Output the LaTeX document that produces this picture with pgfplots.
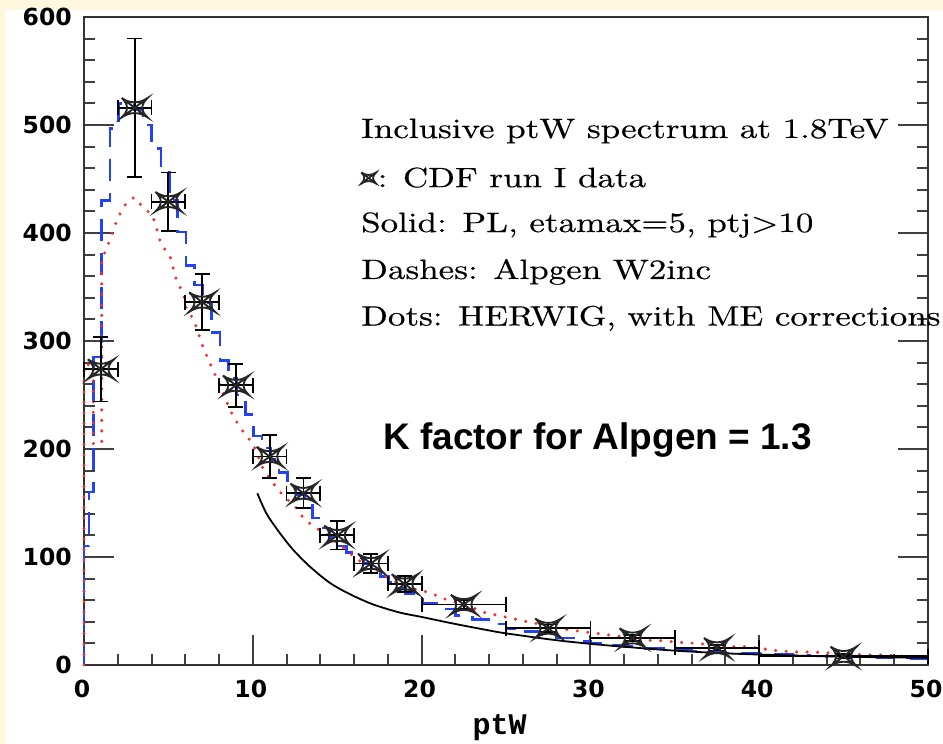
\documentclass[border=0pt]{standalone}
\usepackage{pgfplots}
\pgfplotsset{compat=1.18}
\usepackage{pgfplotstable}
\usepackage{fontspec}

\newfontfamily\annfont{lmroman10-regular.otf}[FakeStretch=1.25, FakeBold=0.4]
\newfontfamily\tickfont{DejaVu Sans}
\newfontfamily\labfont{Liberation Mono}
\newfontfamily\kfont{Liberation Sans}

\definecolor{cream}{RGB}{255,248,222}
\definecolor{alpblue}{RGB}{35,65,250}
\definecolor{hwred}{RGB}{245,45,45}

% data marker: a cross inside a four-sided concave outline
\pgfdeclareplotmark{cdf}{%
  \pgfpathmoveto{\pgfqpoint{-\pgfplotmarksize}{-.75\pgfplotmarksize}}%
  \pgfpathlineto{\pgfqpoint{\pgfplotmarksize}{.75\pgfplotmarksize}}%
  \pgfpathmoveto{\pgfqpoint{-\pgfplotmarksize}{.75\pgfplotmarksize}}%
  \pgfpathlineto{\pgfqpoint{\pgfplotmarksize}{-.75\pgfplotmarksize}}%
  \pgfpathmoveto{\pgfqpoint{-\pgfplotmarksize}{.75\pgfplotmarksize}}%
  \pgfpathcurveto{\pgfqpoint{-.35\pgfplotmarksize}{.3\pgfplotmarksize}}{\pgfqpoint{.35\pgfplotmarksize}{.3\pgfplotmarksize}}{\pgfqpoint{\pgfplotmarksize}{.75\pgfplotmarksize}}%
  \pgfpathcurveto{\pgfqpoint{.45\pgfplotmarksize}{.25\pgfplotmarksize}}{\pgfqpoint{.45\pgfplotmarksize}{-.25\pgfplotmarksize}}{\pgfqpoint{\pgfplotmarksize}{-.75\pgfplotmarksize}}%
  \pgfpathcurveto{\pgfqpoint{.35\pgfplotmarksize}{-.3\pgfplotmarksize}}{\pgfqpoint{-.35\pgfplotmarksize}{-.3\pgfplotmarksize}}{\pgfqpoint{-\pgfplotmarksize}{-.75\pgfplotmarksize}}%
  \pgfpathcurveto{\pgfqpoint{-.45\pgfplotmarksize}{-.25\pgfplotmarksize}}{\pgfqpoint{-.45\pgfplotmarksize}{.25\pgfplotmarksize}}{\pgfqpoint{-\pgfplotmarksize}{.75\pgfplotmarksize}}%
  \pgfusepathqstroke
}

% CDF run I data: bin centre, value, half bin width, error
\pgfplotstableread{
x     y     ex    ey
1     274   1     30
3     516   1     64
5     429   1     27
7     336   1     26
9     259   1     20
11    193   1     20
13    159   1     14
15    120   1     13
17    94    1     9
19    75    1     7.5
22.5  56    2.5   4
27.5  34    2.5   3.5
32.5  25    2.5   3
37.5  16    2.5   2.5
45    8     5     2
}\cdfdata

% Alpgen W2inc (x K=1.3), histogram: left bin edge, content
\pgfplotstableread{
x     y
0     0
0     110
0.3   160
0.55  285
1.05  430
1.55  497
2.05  520
3.0   514
3.5   500
4.0   478
4.55  458
5.05  430
5.55  401
6.05  370
6.55  352
7.05  335
7.55  308
8.05  282
8.55  265
9.05  250
9.55  232
10.05 212
10.55 201
11.05 190
11.55 178
12.05 168
12.55 158
13.05 148
13.55 136
14.05 127
14.55 118
15.05 110
15.55 104
16.05 99
16.55 94
17.05 88
17.55 82
18.05 77
18.55 71
19.05 66
19.55 61
20.05 57
21    52
22    46
23    42
24    38
25    34
26    31
27    28
28    25
29    22
30    20
31    18
32    17
33    15.5
34    15
35    14
36    13
37    12
38    11
39    10.5
40    10
41    9.5
42    9
43    8.5
44    8
45    8
46    7.5
47    7
48    6.5
49    6
50    6
}\alpgen

% HERWIG with ME corrections
\pgfplotstableread{
x     y
0     0
0     278
0.55  278
0.55  205
1.05  205
1.05  375
1.44  390
1.74  403
2.03  415
2.43  426
2.96  433
3.5   424
4.07  416
4.3   404
4.56  390
5.1   378
5.5   355
5.9   344
6.05  330
6.5   320
7.06  294
7.56  276
8.05  259
8.65  236
9.05  225
9.43  216
10.0  205
10.3  194
10.6  182
11.0  173
11.5  162
12.0  154
12.6  145
13.0  136
13.6  128
14.3  122
15.0  113
15.6  106
16.2  97
16.8  94
17.5  86
18.2  79
19.1  72
19.9  69
20.5  67
21.2  62
22.9  54
23.6  49
24.5  46
25.4  43
26.3  40
28.1  34
29.0  32
30.0  30
31.0  28
31.9  26
33.3  23
34.3  22.5
35.2  21
36.3  20
38.3  17
39.3  17
40.2  15
41.2  13
42.2  12
43.2  12
44.4  11
46.4  9.3
47.6  9.3
48.3  8.3
50.0  7.7
}\herwig

% PL, etamax=5, ptj>10
\pgfplotstableread{
x     y
10.27 159
10.82 140
11.61 122
12.4  106.5
13.39 91
14.57 76
15.76 65.5
17.14 56
18.72 48.5
20.0  44.5
21.8  38.6
23.86 32.4
25.0  29.3
27.8  23.3
30.0  19.6
31.75 17.2
34.7  13.6
37.7  11
40.6  9.4
44.6  7.8
50.0  6.6
}\plcurve

\begin{document}
\begin{tikzpicture}[x=1pt,y=1pt]
\path[use as bounding box] (0,0) rectangle (943,744);
\fill[cream] (0,0) rectangle (943,744);
\fill[white] (6,0) rectangle (943,734);
\begin{axis}[
  at={(84pt,79pt)}, anchor=south west,
  scale only axis, width=844pt, height=648pt,
  xmin=0, xmax=50, ymin=0, ymax=600,
  xtick={0,10,...,50}, ytick={0,100,...,600},
  minor x tick num=4, minor y tick num=4,
  xtick pos=bottom, ytick pos=both,
  tick align=inside,
  major tick length=30pt, minor tick length=11pt,
  every tick/.style={line width=2pt, black!75},
  axis line style={line width=2.2pt, black!80},
  /pgf/number format/assume math mode=true,
  ticklabel style={font=\tickfont\bfseries\fontsize{23.5}{24}\selectfont, inner sep=0pt, black},
  xticklabel style={xshift=-2pt},
  xticklabel shift=15pt, yticklabel shift=12pt,
  xlabel={ptW},
  xlabel style={font=\labfont\bfseries\fontsize{30}{30}\selectfont,
    at={(axis description cs:0.4925,0)}, anchor=center, yshift=-63pt},
  clip=false,
  legend style={draw=none, fill=none, at={(0.3282,0.7515)}, anchor=west,
    inner sep=0pt, font=\annfont\fontsize{28}{30}\selectfont,
    nodes={inner sep=1.5pt}},
  legend image code/.code={\draw[#1] plot coordinates {(7pt,0pt)};},
]
\addlegendimage{only marks, mark=cdf, mark size=7.5pt, line width=1.8pt, black!85}
\addlegendentry{: CDF run I data}

\addplot[forget plot, const plot, alpblue, line width=2.6pt, dash pattern=on 22pt off 12pt]
  table[x=x, y=y] {\alpgen};
\addplot[forget plot, sharp plot, hwred, line width=3.4pt, line cap=round, dash pattern=on 0pt off 10.5pt]
  table[x=x, y=y] {\herwig};
\addplot[forget plot, smooth, black, line width=1.8pt] table[x=x, y=y] {\plcurve};
\addplot[forget plot, only marks, mark=cdf, mark size=13pt, black!85, line width=1.9pt,
  error bars/.cd, x dir=both, x explicit, y dir=both, y explicit,
  error bar style={line width=1.8pt, black},
  error mark options={line width=1.8pt, black, mark size=7.5pt, rotate=90}]
  table[x=x, y=y, x error=ex, y error=ey] {\cdfdata};

\begin{scope}[font=\annfont\fontsize{28}{30}\selectfont]
\node[anchor=base west, inner sep=0pt] at (axis description cs:0.3282,0.8133) {Inclusive ptW spectrum at 1.8TeV};
\node[anchor=base west, inner sep=0pt] at (axis description cs:0.3282,0.6682) {Solid: PL, etamax=5, ptj>10};
\node[anchor=base west, inner sep=0pt] at (axis description cs:0.3282,0.5957) {Dashes: Alpgen W2inc};
\node[anchor=base west, inner sep=0pt] at (axis description cs:0.3282,0.5239) {Dots: HERWIG, with ME corrections};
\end{scope}
\node[anchor=base west, inner sep=0pt, font=\kfont\bfseries\fontsize{37}{40}\selectfont]
  at (axis description cs:0.3542,0.3318) {K factor for Alpgen = 1.3};
\end{axis}
\end{tikzpicture}
\end{document}
